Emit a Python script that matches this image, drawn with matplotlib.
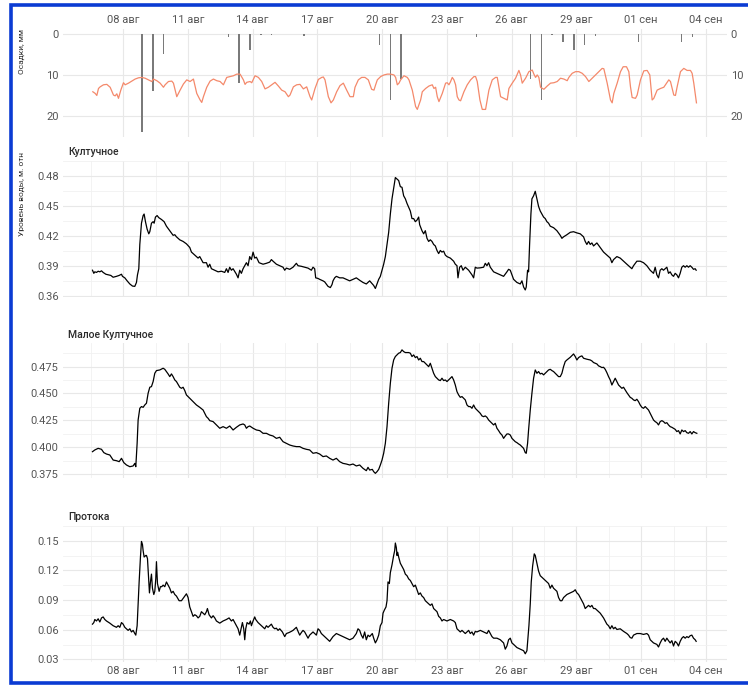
import numpy as np
import matplotlib
matplotlib.use("Agg")
import matplotlib.pyplot as plt
from matplotlib.lines import Line2D

plt.rcParams['font.family'] = ['Roboto', 'DejaVu Sans']

# x values are days counted from 08 Aug 00:00
tick_days = [0, 3, 6, 9, 12, 15, 18, 21, 24, 27]
tick_labels = ['08 авг', '11 авг', '14 авг', '17 авг', '20 авг', '23 авг',
               '26 авг', '29 авг', '01 сен', '04 сен']

# precipitation, mm per 12 h
precip_day = [0.875, 1.375, 1.875, 4.875, 5.375, 5.875, 6.375, 6.875, 8.375,
              11.875, 12.375, 12.875, 16.375, 18.875, 19.375, 19.875, 20.375,
              20.875, 21.375, 21.875, 23.875, 25.875, 26.375]
precip_mm = [24, 14, 5, 0.8, 12, 3.8, 0.3, 0.3, 0.5, 2.7, 16, 11, 0.7, 11, 16,
             0.3, 1.9, 3.8, 2.8, 0.5, 1.9, 2.0, 0.8]

# air temperature (right axis)
temp_day = [-1.404, -1.296, -1.219, -1.142, -1.065, -0.910, -0.756, -0.602, -0.448, -0.370,
            -0.293, -0.216, -0.108, 0.015, 0.093, 0.247, 0.401, 0.556, 0.710, 0.864,
            1.019, 1.173, 1.327, 1.404, 1.559, 1.713, 1.867, 1.944, 2.099, 2.253,
            2.330, 2.485, 2.639, 2.793, 2.947, 3.102, 3.256, 3.410, 3.565, 3.642,
            3.719, 3.873, 4.028, 4.182, 4.336, 4.491, 4.645, 4.799, 4.954, 5.108,
            5.262, 5.417, 5.571, 5.648, 5.725, 5.880, 5.957, 6.111, 6.265, 6.420,
            6.574, 6.728, 6.883, 7.037, 7.191, 7.346, 7.500, 7.654, 7.731, 7.886,
            8.040, 8.194, 8.349, 8.503, 8.657, 8.735, 8.889, 9.043, 9.198, 9.275,
            9.352, 9.506, 9.630, 9.738, 9.892, 10.046, 10.201, 10.355, 10.509, 10.664,
            10.741, 10.895, 11.049, 11.204, 11.358, 11.512, 11.620, 11.697, 11.775, 11.929,
            12.083, 12.238, 12.392, 12.546, 12.623, 12.701, 12.778, 12.855, 13.009, 13.164,
            13.241, 13.395, 13.549, 13.627, 13.781, 13.858, 14.012, 14.167, 14.321, 14.398,
            14.475, 14.552, 14.630, 14.784, 14.938, 15.015, 15.093, 15.170, 15.247, 15.324,
            15.401, 15.478, 15.556, 15.633, 15.787, 15.941, 16.096, 16.250, 16.327, 16.404,
            16.528, 16.636, 16.790, 16.867, 16.944, 17.099, 17.253, 17.330, 17.407, 17.485,
            17.562, 17.639, 17.793, 17.870, 18.025, 18.179, 18.333, 18.410, 18.488, 18.642,
            18.796, 18.951, 19.028, 19.105, 19.182, 19.259, 19.336, 19.491, 19.645, 19.799,
            19.954, 20.108, 20.262, 20.417, 20.571, 20.648, 20.802, 20.957, 21.111, 21.265,
            21.420, 21.574, 21.728, 21.883, 22.037, 22.191, 22.269, 22.423, 22.577, 22.654,
            22.731, 22.886, 23.040, 23.164, 23.318, 23.426, 23.503, 23.580, 23.735, 23.812,
            23.966, 24.120, 24.275, 24.398, 24.506, 24.583, 24.738, 24.892, 25.046, 25.123,
            25.278, 25.355, 25.509, 25.586, 25.664, 25.818, 25.972, 26.127, 26.281, 26.358,
            26.435, 26.559]
temp_val = [14.1, 14.5, 15.0, 13.3, 12.9, 12.4, 12.3, 13.0, 14.9, 15.1,
            14.6, 15.7, 13.7, 11.9, 12.4, 12.0, 11.5, 11.0, 10.7, 10.6,
            10.8, 11.2, 11.6, 11.0, 11.4, 12.0, 13.0, 12.4, 11.6, 11.5,
            12.0, 15.3, 13.7, 12.2, 11.2, 11.6, 11.0, 14.5, 16.1, 16.7,
            15.3, 13.0, 11.5, 11.0, 11.4, 11.6, 12.4, 10.6, 10.4, 10.2,
            9.8, 9.8, 11.2, 12.3, 11.8, 11.6, 11.9, 10.2, 10.6, 11.6,
            13.4, 13.0, 12.4, 11.8, 12.7, 13.7, 14.1, 15.3, 14.9, 12.9,
            12.4, 12.3, 13.4, 12.9, 15.3, 16.1, 13.3, 11.1, 10.6, 10.5,
            11.2, 15.3, 16.8, 16.1, 14.1, 12.6, 12.0, 13.7, 15.3, 15.3,
            13.0, 11.2, 10.6, 10.6, 11.2, 13.5, 13.7, 12.4, 11.2, 10.4,
            10.0, 9.8, 9.8, 10.0, 10.6, 12.4, 12.0, 11.2, 10.2, 10.6,
            11.2, 13.7, 17.7, 18.4, 16.1, 14.1, 13.3, 12.7, 12.4, 13.3,
            13.0, 15.3, 16.5, 14.5, 12.0, 11.9, 12.4, 11.6, 10.6, 11.2,
            12.4, 15.3, 16.1, 16.3, 14.1, 12.4, 11.2, 10.4, 10.4, 11.6,
            16.1, 18.4, 18.4, 16.1, 13.7, 11.2, 10.6, 10.6, 12.9, 15.3,
            15.5, 15.7, 16.1, 13.3, 12.0, 10.8, 8.9, 10.0, 12.0, 10.8,
            9.2, 8.8, 9.8, 10.6, 10.0, 10.6, 13.0, 13.5, 12.7, 12.0,
            11.9, 11.6, 10.8, 11.0, 11.4, 10.6, 9.6, 9.2, 9.2, 9.6,
            10.4, 11.6, 10.8, 10.0, 9.2, 8.4, 8.5, 12.0, 16.1, 16.8,
            14.5, 12.0, 9.2, 8.0, 8.0, 9.2, 12.9, 15.5, 15.7, 14.9,
            11.2, 9.0, 8.9, 10.0, 16.1, 15.7, 13.7, 13.3, 13.0, 12.4,
            11.2, 11.6, 14.9, 15.0, 12.9, 9.2, 8.4, 8.9, 8.9, 9.6,
            12.0, 16.8]

# water level, Култучное
kult_day = [-1.420, -1.358, -1.312, -1.235, -1.157, -1.080, -1.003, -0.926, -0.802, -0.694,
            -0.571, -0.463, -0.309, -0.185, -0.077, -0.031, 0.077, 0.185, 0.309, 0.432,
            0.540, 0.617, 0.664, 0.725, 0.772, 0.849, 0.926, 0.972, 1.034, 1.111,
            1.188, 1.235, 1.312, 1.389, 1.435, 1.497, 1.574, 1.651, 1.775, 1.898,
            2.006, 2.160, 2.238, 2.315, 2.392, 2.469, 2.623, 2.778, 2.932, 3.086,
            3.164, 3.318, 3.472, 3.549, 3.704, 3.858, 3.935, 4.012, 4.090, 4.244,
            4.398, 4.552, 4.707, 4.784, 4.861, 4.938, 5.015, 5.093, 5.247, 5.324,
            5.401, 5.478, 5.556, 5.710, 5.787, 5.864, 5.941, 6.019, 6.096, 6.173,
            6.296, 6.481, 6.636, 6.790, 6.867, 6.944, 7.099, 7.253, 7.407, 7.485,
            7.562, 7.716, 7.870, 8.025, 8.102, 8.256, 8.410, 8.565, 8.719, 8.796,
            8.873, 8.920, 9.028, 9.105, 9.259, 9.336, 9.491, 9.599, 9.676, 9.722,
            9.799, 9.877, 10.031, 10.185, 10.340, 10.494, 10.648, 10.802, 10.957, 11.111,
            11.265, 11.420, 11.543, 11.606, 11.684, 11.761, 11.838, 11.915, 11.992, 12.069,
            12.147, 12.224, 12.301, 12.378, 12.455, 12.532, 12.610, 12.687, 12.764, 12.841,
            12.918, 12.995, 13.073, 13.150, 13.304, 13.381, 13.458, 13.536, 13.613, 13.690,
            13.736, 13.844, 13.921, 13.999, 14.076, 14.153, 14.230, 14.307, 14.384, 14.462,
            14.539, 14.616, 14.693, 14.770, 14.847, 14.925, 15.002, 15.156, 15.310, 15.387,
            15.465, 15.511, 15.588, 15.665, 15.742, 15.850, 16.005, 16.159, 16.236, 16.313,
            16.390, 16.545, 16.699, 16.776, 16.853, 16.931, 17.008, 17.162, 17.316, 17.471,
            17.625, 17.779, 17.856, 17.934, 18.011, 18.088, 18.242, 18.397, 18.474, 18.551,
            18.628, 18.674, 18.736, 18.782, 18.829, 18.890, 18.937, 19.014, 19.091, 19.168,
            19.245, 19.323, 19.400, 19.477, 19.554, 19.631, 19.708, 19.786, 19.940, 20.094,
            20.249, 20.326, 20.403, 20.557, 20.712, 20.866, 21.020, 21.175, 21.329, 21.406,
            21.483, 21.560, 21.638, 21.715, 21.792, 21.869, 21.946, 22.101, 22.255, 22.409,
            22.564, 22.641, 22.718, 22.872, 23.026, 23.181, 23.335, 23.489, 23.566, 23.644,
            23.798, 23.952, 24.107, 24.261, 24.415, 24.569, 24.647, 24.724, 24.801, 24.878,
            24.955, 25.032, 25.187, 25.264, 25.341, 25.418, 25.495, 25.573, 25.650, 25.727,
            25.804, 25.881, 25.958, 26.036, 26.113, 26.190, 26.267, 26.344, 26.421, 26.499,
            26.545]
kult_lvl = [0.3858, 0.3827, 0.3842, 0.3836, 0.3848, 0.3842, 0.3852, 0.3836, 0.3818, 0.3812,
            0.3806, 0.3788, 0.3797, 0.3806, 0.3818, 0.3797, 0.3782, 0.3752, 0.3721, 0.3700,
            0.3697, 0.3736, 0.3812, 0.3873, 0.4115, 0.4327, 0.4403, 0.4418, 0.4342, 0.4267,
            0.4221, 0.4242, 0.4327, 0.4342, 0.4327, 0.4388, 0.4403, 0.4382, 0.4364, 0.4342,
            0.4297, 0.4252, 0.4230, 0.4206, 0.4212, 0.4191, 0.4161, 0.4145, 0.4121, 0.4085,
            0.4039, 0.4009, 0.3979, 0.3994, 0.3933, 0.3933, 0.3888, 0.3918, 0.3873, 0.3858,
            0.3842, 0.3848, 0.3836, 0.3873, 0.3836, 0.3888, 0.3858, 0.3873, 0.3818, 0.3782,
            0.3858, 0.3827, 0.3873, 0.3933, 0.3903, 0.3994, 0.3964, 0.4039, 0.3979, 0.3988,
            0.3933, 0.3918, 0.3927, 0.3939, 0.3964, 0.3948, 0.3918, 0.3903, 0.3888, 0.3858,
            0.3879, 0.3867, 0.3888, 0.3927, 0.3903, 0.3897, 0.3888, 0.3879, 0.3858, 0.3888,
            0.3873, 0.3782, 0.3776, 0.3767, 0.3752, 0.3742, 0.3697, 0.3685, 0.3715, 0.3752,
            0.3782, 0.3797, 0.3782, 0.3782, 0.3767, 0.3752, 0.3767, 0.3782, 0.3758, 0.3736,
            0.3721, 0.3752, 0.3721, 0.3706, 0.3676, 0.3721, 0.3767, 0.3797, 0.3858, 0.3918,
            0.3994, 0.4115, 0.4236, 0.4418, 0.4570, 0.4676, 0.4782, 0.4767, 0.4752, 0.4691,
            0.4685, 0.4600, 0.4570, 0.4524, 0.4448, 0.4373, 0.4373, 0.4342, 0.4358, 0.4388,
            0.4312, 0.4252, 0.4221, 0.4252, 0.4176, 0.4145, 0.4161, 0.4145, 0.4115, 0.4100,
            0.4055, 0.4024, 0.4055, 0.4039, 0.4048, 0.4009, 0.3994, 0.3979, 0.3948, 0.3918,
            0.3903, 0.3782, 0.3888, 0.3903, 0.3858, 0.3888, 0.3858, 0.3812, 0.3782, 0.3888,
            0.3879, 0.3882, 0.3888, 0.3927, 0.3903, 0.3933, 0.3888, 0.3842, 0.3827, 0.3812,
            0.3797, 0.3842, 0.3867, 0.3858, 0.3812, 0.3767, 0.3736, 0.3721, 0.3752, 0.3691,
            0.3661, 0.3691, 0.3858, 0.3842, 0.4115, 0.4418, 0.4570, 0.4600, 0.4645, 0.4570,
            0.4494, 0.4448, 0.4418, 0.4388, 0.4373, 0.4342, 0.4327, 0.4297, 0.4282, 0.4252,
            0.4206, 0.4176, 0.4191, 0.4212, 0.4236, 0.4242, 0.4230, 0.4221, 0.4191, 0.4145,
            0.4115, 0.4145, 0.4115, 0.4130, 0.4100, 0.4115, 0.4130, 0.4085, 0.4039, 0.4009,
            0.3979, 0.3933, 0.3964, 0.3994, 0.3979, 0.3948, 0.3918, 0.3888, 0.3873, 0.3903,
            0.3948, 0.3948, 0.3933, 0.3903, 0.3858, 0.3827, 0.3888, 0.3812, 0.3782, 0.3858,
            0.3873, 0.3858, 0.3888, 0.3827, 0.3842, 0.3812, 0.3797, 0.3827, 0.3812, 0.3782,
            0.3827, 0.3888, 0.3903, 0.3888, 0.3903, 0.3888, 0.3903, 0.3888, 0.3867, 0.3873,
            0.3858]

# water level, Малое Култучное
mkult_day = [-1.420, -1.312, -1.157, -1.003, -0.895, -0.772, -0.617, -0.463, -0.309, -0.185,
             -0.077, 0.031, 0.154, 0.309, 0.463, 0.540, 0.586, 0.648, 0.694, 0.772,
             0.849, 0.926, 1.003, 1.080, 1.157, 1.235, 1.312, 1.389, 1.466, 1.543,
             1.698, 1.852, 1.929, 2.006, 2.083, 2.160, 2.238, 2.315, 2.392, 2.469,
             2.623, 2.701, 2.778, 2.855, 2.932, 3.086, 3.241, 3.395, 3.549, 3.704,
             3.781, 3.858, 3.935, 4.012, 4.167, 4.321, 4.475, 4.630, 4.784, 4.938,
             5.093, 5.247, 5.401, 5.556, 5.633, 5.710, 5.787, 5.864, 6.019, 6.173,
             6.327, 6.481, 6.636, 6.790, 6.944, 7.099, 7.253, 7.407, 7.562, 7.716,
             7.870, 8.025, 8.179, 8.333, 8.488, 8.642, 8.796, 8.951, 9.105, 9.259,
             9.414, 9.568, 9.722, 9.877, 10.031, 10.185, 10.340, 10.494, 10.648, 10.802,
             10.957, 11.111, 11.265, 11.343, 11.420, 11.543, 11.606, 11.684, 11.761, 11.838,
             11.915, 11.992, 12.069, 12.147, 12.224, 12.301, 12.378, 12.455, 12.532, 12.610,
             12.687, 12.764, 12.841, 12.918, 12.995, 13.073, 13.150, 13.227, 13.304, 13.381,
             13.458, 13.536, 13.613, 13.690, 13.767, 13.844, 13.921, 13.999, 14.076, 14.153,
             14.230, 14.307, 14.384, 14.462, 14.539, 14.616, 14.693, 14.770, 14.847, 14.925,
             15.002, 15.079, 15.156, 15.233, 15.310, 15.387, 15.465, 15.542, 15.619, 15.696,
             15.773, 15.850, 15.928, 16.005, 16.082, 16.159, 16.236, 16.313, 16.390, 16.468,
             16.545, 16.622, 16.699, 16.776, 16.853, 16.931, 17.008, 17.085, 17.162, 17.239,
             17.316, 17.394, 17.471, 17.548, 17.625, 17.702, 17.779, 17.856, 17.934, 18.011,
             18.088, 18.165, 18.242, 18.320, 18.397, 18.474, 18.551, 18.628, 18.674, 18.736,
             18.782, 18.860, 18.937, 19.014, 19.091, 19.168, 19.245, 19.323, 19.400, 19.477,
             19.554, 19.631, 19.708, 19.786, 19.863, 19.940, 20.017, 20.094, 20.171, 20.249,
             20.326, 20.403, 20.480, 20.557, 20.712, 20.866, 20.943, 21.020, 21.098, 21.175,
             21.252, 21.329, 21.483, 21.638, 21.715, 21.792, 21.869, 21.946, 22.024, 22.101,
             22.178, 22.255, 22.332, 22.409, 22.487, 22.564, 22.641, 22.718, 22.795, 22.872,
             22.950, 23.027, 23.104, 23.181, 23.258, 23.335, 23.412, 23.490, 23.567, 23.644,
             23.721, 23.798, 23.875, 23.953, 24.030, 24.107, 24.184, 24.261, 24.338, 24.416,
             24.493, 24.570, 24.647, 24.724, 24.801, 24.879, 24.956, 25.033, 25.110, 25.187,
             25.264, 25.342, 25.419, 25.496, 25.573, 25.650, 25.727, 25.805, 25.882, 25.959,
             26.036, 26.113, 26.190, 26.268, 26.345, 26.422, 26.499, 26.576]
mkult_lvl = [0.3958, 0.3974, 0.3989, 0.3980, 0.3949, 0.3936, 0.3927, 0.3880, 0.3874, 0.3865,
             0.3896, 0.3856, 0.3834, 0.3818, 0.3825, 0.3849, 0.3818, 0.4036, 0.4253, 0.4362,
             0.4378, 0.4371, 0.4393, 0.4409, 0.4502, 0.4558, 0.4564, 0.4611, 0.4688, 0.4713,
             0.4719, 0.4735, 0.4725, 0.4704, 0.4682, 0.4657, 0.4682, 0.4657, 0.4626, 0.4611,
             0.4558, 0.4548, 0.4558, 0.4527, 0.4486, 0.4455, 0.4424, 0.4393, 0.4371, 0.4346,
             0.4315, 0.4284, 0.4269, 0.4247, 0.4238, 0.4207, 0.4176, 0.4191, 0.4176, 0.4197,
             0.4160, 0.4185, 0.4207, 0.4216, 0.4207, 0.4176, 0.4191, 0.4197, 0.4176, 0.4160,
             0.4154, 0.4129, 0.4129, 0.4113, 0.4104, 0.4082, 0.4092, 0.4051, 0.4036, 0.4020,
             0.4011, 0.4005, 0.4005, 0.3989, 0.3980, 0.3974, 0.3943, 0.3949, 0.3936, 0.3912,
             0.3918, 0.3896, 0.3880, 0.3896, 0.3865, 0.3849, 0.3843, 0.3834, 0.3843, 0.3825,
             0.3834, 0.3803, 0.3781, 0.3812, 0.3787, 0.3793, 0.3772, 0.3756, 0.3772, 0.3793,
             0.3834, 0.3880, 0.3943, 0.4036, 0.4191, 0.4409, 0.4595, 0.4735, 0.4812, 0.4844,
             0.4859, 0.4875, 0.4881, 0.4906, 0.4890, 0.4881, 0.4881, 0.4881, 0.4875, 0.4844,
             0.4859, 0.4834, 0.4844, 0.4812, 0.4828, 0.4797, 0.4797, 0.4781, 0.4766, 0.4750,
             0.4781, 0.4735, 0.4688, 0.4657, 0.4642, 0.4626, 0.4620, 0.4642, 0.4620, 0.4626,
             0.4611, 0.4626, 0.4642, 0.4657, 0.4626, 0.4579, 0.4517, 0.4486, 0.4464, 0.4471,
             0.4455, 0.4440, 0.4393, 0.4378, 0.4378, 0.4362, 0.4393, 0.4362, 0.4346, 0.4331,
             0.4315, 0.4291, 0.4284, 0.4291, 0.4278, 0.4253, 0.4238, 0.4222, 0.4207, 0.4222,
             0.4176, 0.4154, 0.4129, 0.4113, 0.4082, 0.4104, 0.4123, 0.4123, 0.4113, 0.4082,
             0.4067, 0.4051, 0.4042, 0.4030, 0.4020, 0.4005, 0.3989, 0.3949, 0.3943, 0.4036,
             0.4160, 0.4346, 0.4502, 0.4642, 0.4719, 0.4688, 0.4704, 0.4682, 0.4688, 0.4673,
             0.4688, 0.4704, 0.4719, 0.4725, 0.4713, 0.4704, 0.4688, 0.4673, 0.4657, 0.4657,
             0.4688, 0.4750, 0.4797, 0.4812, 0.4837, 0.4868, 0.4844, 0.4812, 0.4834, 0.4844,
             0.4850, 0.4828, 0.4819, 0.4812, 0.4803, 0.4788, 0.4781, 0.4775, 0.4757, 0.4750,
             0.4741, 0.4744, 0.4725, 0.4694, 0.4657, 0.4626, 0.4579, 0.4611, 0.4642, 0.4611,
             0.4579, 0.4564, 0.4548, 0.4558, 0.4533, 0.4508, 0.4486, 0.4464, 0.4455, 0.4440,
             0.4433, 0.4446, 0.4424, 0.4393, 0.4371, 0.4362, 0.4378, 0.4362, 0.4346, 0.4315,
             0.4284, 0.4253, 0.4238, 0.4228, 0.4207, 0.4238, 0.4247, 0.4238, 0.4222, 0.4228,
             0.4207, 0.4191, 0.4185, 0.4176, 0.4166, 0.4145, 0.4154, 0.4123, 0.4160, 0.4145,
             0.4154, 0.4135, 0.4129, 0.4145, 0.4123, 0.4145, 0.4135, 0.4129]

# water level, Протока
prot_day = [-1.420, -1.358, -1.312, -1.235, -1.157, -1.080, -1.003, -0.926, -0.849, -0.772,
            -0.617, -0.463, -0.309, -0.231, -0.154, -0.077, 0.000, 0.077, 0.154, 0.231,
            0.309, 0.386, 0.463, 0.540, 0.586, 0.648, 0.694, 0.741, 0.802, 0.849,
            0.895, 0.926, 0.972, 1.049, 1.080, 1.127, 1.173, 1.219, 1.265, 1.312,
            1.358, 1.420, 1.466, 1.512, 1.543, 1.590, 1.667, 1.728, 1.790, 1.852,
            1.929, 2.006, 2.083, 2.160, 2.238, 2.315, 2.392, 2.469, 2.593, 2.701,
            2.809, 2.932, 3.009, 3.086, 3.164, 3.241, 3.318, 3.395, 3.472, 3.549,
            3.627, 3.704, 3.781, 3.858, 3.904, 3.981, 4.090, 4.167, 4.244, 4.321,
            4.475, 4.630, 4.784, 4.907, 5.015, 5.093, 5.170, 5.247, 5.324, 5.401,
            5.463, 5.525, 5.586, 5.633, 5.679, 5.741, 5.833, 5.895, 5.941, 6.019,
            6.096, 6.142, 6.250, 6.327, 6.404, 6.481, 6.559, 6.636, 6.713, 6.867,
            6.944, 7.022, 7.099, 7.176, 7.253, 7.377, 7.485, 7.562, 7.685, 7.793,
            7.870, 7.948, 8.025, 8.102, 8.179, 8.256, 8.333, 8.410, 8.565, 8.642,
            8.796, 8.951, 9.028, 9.105, 9.182, 9.259, 9.414, 9.568, 9.722, 9.877,
            10.031, 10.185, 10.340, 10.494, 10.648, 10.802, 10.880, 10.957, 11.034, 11.111,
            11.188, 11.265, 11.343, 11.420, 11.543, 11.606, 11.684, 11.761, 11.838, 11.915,
            11.992, 12.039, 12.100, 12.177, 12.224, 12.270, 12.332, 12.378, 12.455, 12.532,
            12.579, 12.610, 12.656, 12.687, 12.718, 12.764, 12.841, 12.918, 12.995, 13.073,
            13.150, 13.227, 13.304, 13.381, 13.458, 13.536, 13.613, 13.690, 13.767, 13.844,
            13.921, 13.999, 14.076, 14.153, 14.230, 14.307, 14.384, 14.462, 14.539, 14.616,
            14.693, 14.770, 14.847, 15.002, 15.156, 15.310, 15.387, 15.465, 15.542, 15.619,
            15.696, 15.773, 15.850, 15.928, 16.005, 16.082, 16.159, 16.236, 16.313, 16.390,
            16.545, 16.699, 16.853, 16.931, 17.008, 17.085, 17.162, 17.316, 17.471, 17.625,
            17.702, 17.779, 17.856, 17.934, 18.011, 18.088, 18.242, 18.397, 18.551, 18.628,
            18.705, 18.752, 18.798, 18.860, 18.906, 18.968, 19.045, 19.091, 19.168, 19.245,
            19.323, 19.477, 19.631, 19.708, 19.786, 19.863, 19.940, 20.017, 20.094, 20.171,
            20.249, 20.326, 20.403, 20.557, 20.712, 20.866, 20.943, 21.020, 21.098, 21.175,
            21.329, 21.406, 21.483, 21.560, 21.638, 21.715, 21.792, 21.869, 21.946, 22.101,
            22.255, 22.409, 22.487, 22.564, 22.641, 22.718, 22.795, 22.872, 23.027, 23.181,
            23.335, 23.412, 23.490, 23.567, 23.644, 23.798, 23.953, 24.107, 24.261, 24.338,
            24.416, 24.570, 24.724, 24.801, 24.879, 24.956, 25.033, 25.110, 25.187, 25.264,
            25.342, 25.419, 25.496, 25.573, 25.650, 25.727, 25.805, 25.882, 25.959, 26.036,
            26.113, 26.190, 26.268, 26.345, 26.422, 26.499, 26.545]
prot_lvl = [0.0657, 0.0673, 0.0704, 0.0689, 0.0711, 0.0679, 0.0720, 0.0730, 0.0704, 0.0689,
            0.0667, 0.0641, 0.0625, 0.0641, 0.0625, 0.0673, 0.0657, 0.0625, 0.0610, 0.0594,
            0.0610, 0.0578, 0.0594, 0.0562, 0.0546, 0.0641, 0.0862, 0.1084, 0.1336, 0.1494,
            0.1463, 0.1400, 0.1336, 0.1352, 0.1352, 0.1321, 0.1147, 0.0973, 0.1084, 0.1163,
            0.1020, 0.0957, 0.0989, 0.1115, 0.1289, 0.1068, 0.0989, 0.1036, 0.1036, 0.1052,
            0.1036, 0.1084, 0.1052, 0.1020, 0.0973, 0.0989, 0.0957, 0.0941, 0.0894, 0.0894,
            0.0926, 0.0964, 0.0926, 0.0831, 0.0783, 0.0736, 0.0752, 0.0742, 0.0720, 0.0736,
            0.0783, 0.0768, 0.0752, 0.0783, 0.0815, 0.0752, 0.0720, 0.0742, 0.0720, 0.0689,
            0.0667, 0.0689, 0.0704, 0.0720, 0.0689, 0.0704, 0.0673, 0.0641, 0.0610, 0.0546,
            0.0610, 0.0673, 0.0610, 0.0499, 0.0610, 0.0673, 0.0657, 0.0689, 0.0641, 0.0689,
            0.0730, 0.0704, 0.0673, 0.0657, 0.0641, 0.0625, 0.0610, 0.0641, 0.0625, 0.0657,
            0.0625, 0.0610, 0.0616, 0.0594, 0.0610, 0.0578, 0.0531, 0.0562, 0.0572, 0.0584,
            0.0594, 0.0610, 0.0625, 0.0584, 0.0546, 0.0572, 0.0594, 0.0578, 0.0515, 0.0546,
            0.0578, 0.0546, 0.0610, 0.0594, 0.0562, 0.0546, 0.0515, 0.0483, 0.0531, 0.0562,
            0.0546, 0.0531, 0.0515, 0.0499, 0.0515, 0.0562, 0.0610, 0.0594, 0.0546, 0.0515,
            0.0578, 0.0499, 0.0546, 0.0531, 0.0562, 0.0515, 0.0467, 0.0499, 0.0546, 0.0641,
            0.0673, 0.0768, 0.0799, 0.0831, 0.0894, 0.1084, 0.1068, 0.1178, 0.1257, 0.1352,
            0.1400, 0.1478, 0.1431, 0.1352, 0.1384, 0.1336, 0.1273, 0.1242, 0.1210, 0.1163,
            0.1147, 0.1115, 0.1099, 0.1068, 0.1036, 0.1052, 0.1005, 0.0957, 0.0973, 0.0941,
            0.0926, 0.0894, 0.0878, 0.0862, 0.0847, 0.0862, 0.0815, 0.0799, 0.0783, 0.0736,
            0.0720, 0.0689, 0.0704, 0.0689, 0.0704, 0.0689, 0.0673, 0.0610, 0.0594, 0.0578,
            0.0594, 0.0578, 0.0562, 0.0578, 0.0594, 0.0562, 0.0578, 0.0546, 0.0584, 0.0578,
            0.0594, 0.0578, 0.0562, 0.0594, 0.0562, 0.0531, 0.0515, 0.0515, 0.0499, 0.0467,
            0.0404, 0.0436, 0.0499, 0.0515, 0.0467, 0.0452, 0.0420, 0.0404, 0.0388, 0.0357,
            0.0388, 0.0515, 0.0641, 0.0862, 0.1084, 0.1242, 0.1368, 0.1352, 0.1273, 0.1194,
            0.1147, 0.1115, 0.1084, 0.1068, 0.1020, 0.1052, 0.1020, 0.1005, 0.0989, 0.0926,
            0.0894, 0.0894, 0.0926, 0.0957, 0.0973, 0.0989, 0.1005, 0.0973, 0.0957, 0.0926,
            0.0862, 0.0815, 0.0831, 0.0847, 0.0831, 0.0847, 0.0815, 0.0815, 0.0799, 0.0768,
            0.0720, 0.0657, 0.0641, 0.0610, 0.0641, 0.0610, 0.0625, 0.0603, 0.0610, 0.0584,
            0.0562, 0.0546, 0.0521, 0.0515, 0.0546, 0.0562, 0.0562, 0.0553, 0.0562, 0.0546,
            0.0499, 0.0467, 0.0452, 0.0426, 0.0467, 0.0499, 0.0515, 0.0483, 0.0515, 0.0490,
            0.0467, 0.0490, 0.0436, 0.0483, 0.0467, 0.0436, 0.0483, 0.0515, 0.0531, 0.0515,
            0.0531, 0.0521, 0.0540, 0.0546, 0.0515, 0.0499, 0.0483]

TICK_C = '#555555'
TITLE_C = '#2b2b2b'
GRID_MAJ = '#e8e8e8'
GRID_MIN = '#f1f1f1'
W, H = 748, 685


def px_axes(fig, top, bottom, left=62.7, right=726.7):
    # place an axes by pixel edges
    return fig.add_axes([left / W, 1 - bottom / H, (right - left) / W, (bottom - top) / H])


def style(ax, minor_x=True):
    for s in ax.spines.values():
        s.set_visible(False)
    ax.tick_params(which='both', length=0, labelsize=8, labelcolor=TICK_C, pad=3)
    ax.set_xlim(-2.80, 27.96)
    ax.set_xticks(tick_days)
    if minor_x:
        ax.set_xticks([d + 1.5 for d in tick_days[:-1]] + [-1.5], minor=True)
    ax.grid(which='major', color=GRID_MAJ, lw=0.8)
    ax.grid(which='minor', color=GRID_MIN, lw=0.6)
    ax.set_axisbelow(True)


fig = plt.figure(figsize=(W / 100, H / 100), dpi=100)

# precipitation + temperature
ax0 = px_axes(fig, 29, 137.3)
style(ax0, minor_x=False)
ax0.bar(precip_day, precip_mm, width=0.07, color='#7a7a7a', align='center')
ax0.set_ylim(25.2, -1.2)
ax0.set_yticks([0, 10, 20])
ax0.xaxis.tick_top()
ax0.set_xticklabels(tick_labels)
ax0r = ax0.twinx()
for s in ax0r.spines.values():
    s.set_visible(False)
ax0r.plot(temp_day, temp_val, color='#f4896b', lw=0.9)
ax0r.set_ylim(25.2, -1.2)
ax0r.set_yticks([0, 10, 20])
ax0r.tick_params(length=0, labelsize=8, labelcolor=TICK_C, pad=3)

panels = [
    (160.7, 296.7, kult_day, kult_lvl, 'Култучное', (0.3594, 0.4836),
     [0.36, 0.39, 0.42, 0.45, 0.48], '{:.2f}'),
    (343.0, 478.3, mkult_day, mkult_lvl, 'Малое Култучное', (0.371, 0.497),
     [0.375, 0.400, 0.425, 0.450, 0.475], '{:.3f}'),
    (526.0, 661.7, prot_day, prot_lvl, 'Протока', (0.0277, 0.1564),
     [0.03, 0.06, 0.09, 0.12, 0.15], '{:.2f}'),
]

for i, (top, bot, xd, yv, title, ylim, yt, fmt) in enumerate(panels):
    ax = px_axes(fig, top, bot)
    style(ax)
    ax.plot(xd, yv, color='black', lw=0.9)
    ax.set_ylim(*ylim)
    ax.set_yticks(yt)
    ax.set_yticks([(a + b) / 2 for a, b in zip(yt[:-1], yt[1:])]
                  + [yt[-1] + (yt[1] - yt[0]) / 2], minor=True)
    ax.set_yticklabels([fmt.format(t) for t in yt])
    if i == 2:
        ax.set_xticklabels(tick_labels)
    else:
        ax.set_xticklabels([])
    fig.text(68 / W, 1 - (top - 8.5) / H, title, fontsize=7.5, color=TITLE_C,
             fontweight='medium', va='center', ha='left')

fig.text(22 / W, 1 - 51 / H, 'Осадки, мм', rotation=90, fontsize=6,
         color=TITLE_C, ha='center', va='center')
fig.text(22 / W, 1 - 194 / H, 'Уровень воды, м. отн', rotation=90, fontsize=6,
         color=TITLE_C, ha='center', va='center')

# blue frame around the picture
frame_c = '#0b3bd3'
fig.add_artist(Line2D([1.01, 11 / W, 11 / W, 1.01],
                      [1 - 5 / H, 1 - 5 / H, 1 - 683.3 / H, 1 - 683.3 / H],
                      transform=fig.transFigure, color=frame_c, lw=2.6,
                      solid_joinstyle='miter'))

fig.savefig('out.png', dpi=100)
